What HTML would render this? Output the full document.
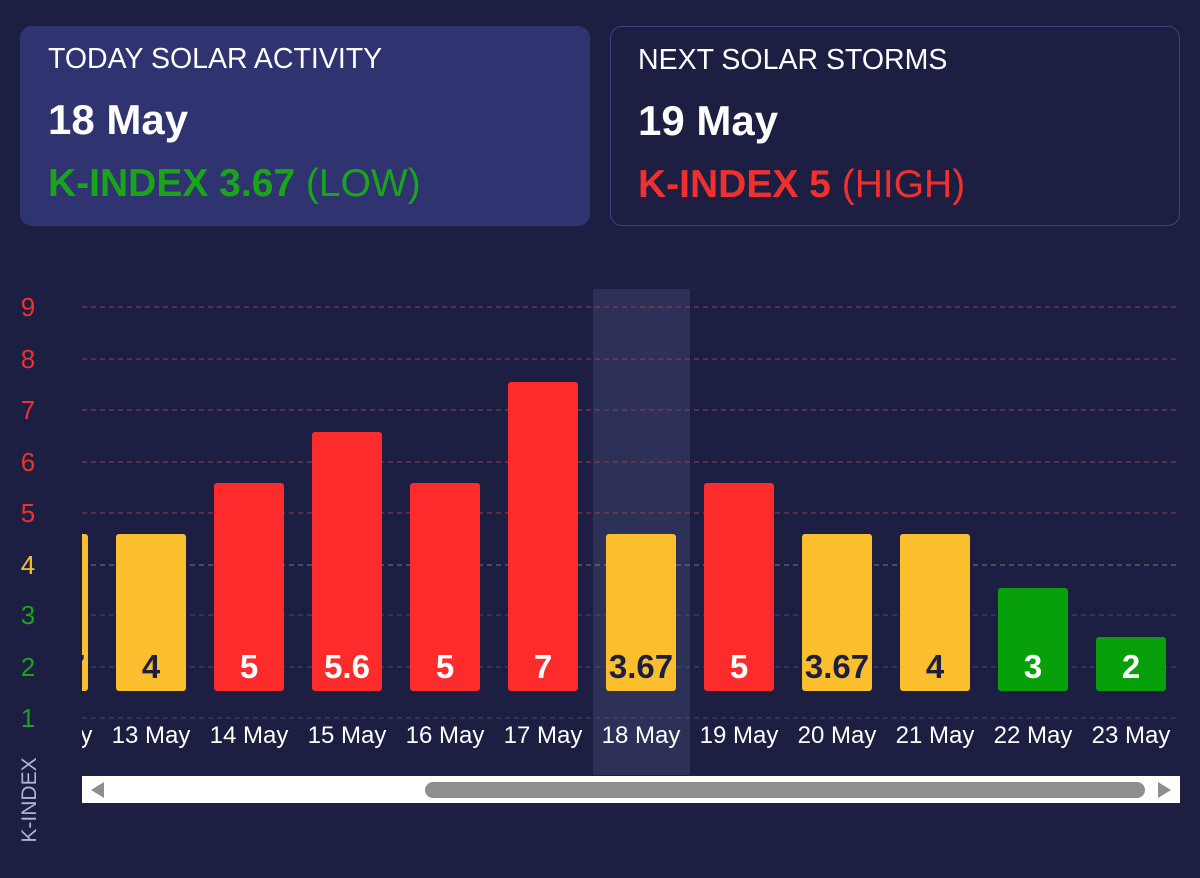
<!DOCTYPE html>
<html><head><style>
body{margin:0;width:1200px;height:878px;background:#1c1f42;font-family:"Liberation Sans",Arial,sans-serif;overflow:hidden;position:relative}
.card{position:absolute;top:26px;width:570px;height:200px;border-radius:12px;box-sizing:border-box}
.c1{left:20px;background:#2f3470}
.c2{left:610px;border:1px solid #3b4184}
.t{position:absolute;left:28px;top:17px;color:#fff;font-size:28.5px}
.d{position:absolute;left:28px;top:70px;color:#fff;font-size:42px;font-weight:bold}
.k{position:absolute;left:28px;top:136px;font-size:39px}
.c2 .t,.c2 .d,.c2 .k{left:27px}
</style></head><body>
<div class="card c1"><div class="t">TODAY SOLAR ACTIVITY</div><div class="d">18 May</div><div class="k" style="color:#1aa41a"><b>K-INDEX 3.67</b> (LOW)</div></div>
<div class="card c2"><div class="t">NEXT SOLAR STORMS</div><div class="d">19 May</div><div class="k" style="color:#f0302f"><b>K-INDEX 5</b> (HIGH)</div></div>
<svg width="1200" height="878" style="position:absolute;left:0;top:0" font-family="Liberation Sans, Arial, sans-serif">
<defs><clipPath id="c"><rect x="82" y="280" width="1100" height="500"/></clipPath></defs>
<rect x="593" y="289" width="97" height="486" fill="#2e3157"/>
<g stroke-dasharray="5,4" stroke-width="1">
<line x1="82" x2="1180" y1="307" y2="307" stroke="#9a3a55"/>
<line x1="82" x2="1180" y1="359" y2="359" stroke="#9a3a55"/>
<line x1="82" x2="1180" y1="410" y2="410" stroke="#9a3a55"/>
<line x1="82" x2="1180" y1="462" y2="462" stroke="#9a3a55"/>
<line x1="82" x2="1180" y1="513" y2="513" stroke="#9a3a55"/>
<line x1="82" x2="1180" y1="565" y2="565" stroke="#8a7a55"/>
<line x1="82" x2="1180" y1="615" y2="615" stroke="#454a75"/>
<line x1="82" x2="1180" y1="667" y2="667" stroke="#454a75"/>
<line x1="82" x2="1180" y1="718" y2="718" stroke="#454a75"/>
</g>
<g font-size="26" text-anchor="middle">
<text x="28" y="316" fill="#f0302f">9</text><text x="28" y="368" fill="#f0302f">8</text>
<text x="28" y="419" fill="#f0302f">7</text><text x="28" y="471" fill="#f0302f">6</text>
<text x="28" y="522" fill="#f0302f">5</text><text x="28" y="574" fill="#f4c030">4</text>
<text x="28" y="624" fill="#1aa41a">3</text><text x="28" y="676" fill="#1aa41a">2</text>
<text x="28" y="727" fill="#1aa41a">1</text>
</g>
<text transform="translate(36,800) rotate(-90)" text-anchor="middle" font-size="21" fill="#b0b4d0">K-INDEX</text>
<g clip-path="url(#c)">
<rect x="18" y="534" width="70" height="157" rx="3" fill="#fbbf2d"/>
<rect x="116" y="534" width="70" height="157" rx="3" fill="#fbbf2d"/>
<rect x="214" y="483" width="70" height="208" rx="3" fill="#fd2b2b"/>
<rect x="312" y="432" width="70" height="259" rx="3" fill="#fd2b2b"/>
<rect x="410" y="483" width="70" height="208" rx="3" fill="#fd2b2b"/>
<rect x="508" y="382" width="70" height="309" rx="3" fill="#fd2b2b"/>
<rect x="606" y="534" width="70" height="157" rx="3" fill="#fbbf2d"/>
<rect x="704" y="483" width="70" height="208" rx="3" fill="#fd2b2b"/>
<rect x="802" y="534" width="70" height="157" rx="3" fill="#fbbf2d"/>
<rect x="900" y="534" width="70" height="157" rx="3" fill="#fbbf2d"/>
<rect x="998" y="588" width="70" height="103" rx="3" fill="#07a00b"/>
<rect x="1096" y="637" width="70" height="54" rx="3" fill="#07a00b"/>
<g font-size="33" font-weight="bold" text-anchor="middle">
<text x="53" y="678" fill="#1c1f42">3.67</text>
<text x="151" y="678" fill="#1c1f42">4</text><text x="249" y="678" fill="#fff">5</text>
<text x="347" y="678" fill="#fff">5.6</text><text x="445" y="678" fill="#fff">5</text>
<text x="543" y="678" fill="#fff">7</text><text x="641" y="678" fill="#1c1f42">3.67</text>
<text x="739" y="678" fill="#fff">5</text><text x="837" y="678" fill="#1c1f42">3.67</text>
<text x="935" y="678" fill="#1c1f42">4</text><text x="1033" y="678" fill="#fff">3</text>
<text x="1131" y="678" fill="#fff">2</text>
</g>
<g font-size="24" fill="#fff" text-anchor="middle">
<text x="53" y="743">12 May</text>
<text x="151" y="743">13 May</text><text x="249" y="743">14 May</text><text x="347" y="743">15 May</text>
<text x="445" y="743">16 May</text><text x="543" y="743">17 May</text><text x="641" y="743">18 May</text>
<text x="739" y="743">19 May</text><text x="837" y="743">20 May</text><text x="935" y="743">21 May</text>
<text x="1033" y="743">22 May</text><text x="1131" y="743">23 May</text>
</g>
</g>
<rect x="82" y="776" width="1098" height="27" fill="#fff"/>
<rect x="425" y="782" width="720" height="16" rx="8" fill="#8e8e8e"/>
<polygon points="91,790 104,782 104,798" fill="#8e8e8e"/>
<polygon points="1171,790 1158,782 1158,798" fill="#8e8e8e"/>
</svg>
</body></html>
